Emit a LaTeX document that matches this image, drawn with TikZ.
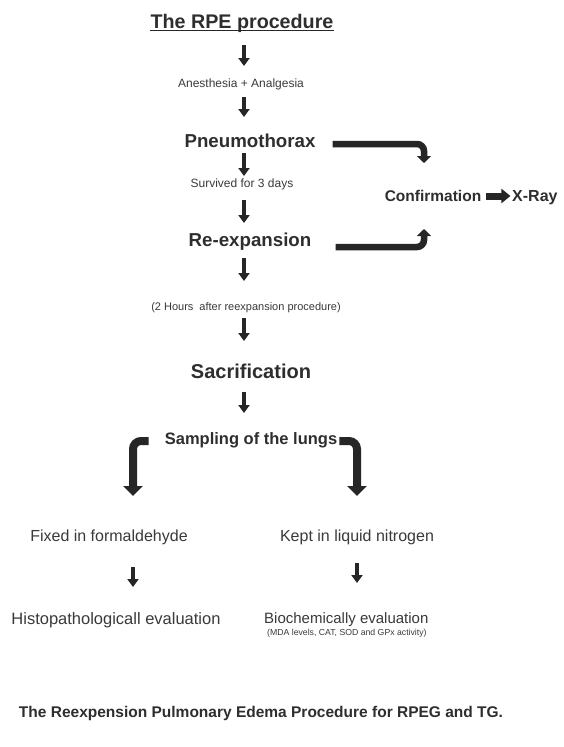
\documentclass[tikz,border=0pt]{standalone}
\usepackage{fontspec}
\setmainfont{Liberation Sans}
\usetikzlibrary{arrows.meta,calc}
\definecolor{ink}{HTML}{262626}
\definecolor{txt}{HTML}{2E2E2E}
\definecolor{txtl}{HTML}{3A3A3A}
\newcommand\fsz[1]{\fontsize{#1}{#1}\selectfont}
\begin{document}
\begin{tikzpicture}[x=1pt,y=-1pt,
  lbl/.style={inner sep=0pt, text=txt},
  head/.style={lbl, font=\bfseries\fsz{18.7}},
  small/.style={lbl, text=txtl, font=\fsz{12}},
  plain/.style={lbl, text=txtl, font=\fsz{16}},
  varr/.style={draw=ink, line width=4.5pt, -{Triangle[width=11pt,length=8pt]}},
  barr/.style={draw=ink, line width=6.5pt, rounded corners=7pt, -{Triangle[width=14pt,length=7pt]}},
  bigarr/.style={draw=ink, line width=8pt, rounded corners=8pt, -{Triangle[width=19pt,length=10pt]}},
  fatarr/.style={draw=ink, line width=7pt, -{Triangle[width=14pt,length=9pt]}},
]
\fill[white] (0,0) rectangle (563,747);
\useasboundingbox (0,0) rectangle (563,747);

\coordinate (mx) at (244,0);
\coordinate (lx) at (133,0);
\coordinate (rx) at (357,0);

% main column
\node[lbl, font=\bfseries\fsz{19.7}] (title) at (242,23) {The RPE procedure};
\draw[ink, line width=1.7pt] ($(title.base west)+(0,2.5)$) -- ($(title.base east)+(0,2.5)$);
\node[small] (anes) at (241,84) {Anesthesia + Analgesia};
\node[head] (pneu) at (250,141) {Pneumothorax};
\node[small] (surv) at (242,184) {Survived for 3 days};
\node[head] (reexp) at (250,242) {Re-expansion};
\node[lbl, text=txtl, font=\fsz{11}] (hours) at (246,308) {(2 Hours\hspace{3pt} after reexpansion procedure)};
\node[lbl, font=\bfseries\fsz{20}] (sacr) at (251,371) {Sacrification};
\node[lbl, font=\bfseries\fsz{16.5}] (samp) at (251,440) {Sampling of the lungs};

\draw[varr] ($(title.center -| mx)+(0,22)$) -- ($(anes.center -| mx)+(0,-18)$);
\draw[varr] ($(anes.center -| mx)+(0,13)$) -- ($(pneu.center -| mx)+(0,-24)$);
\draw[varr] ($(pneu.center -| mx)+(0,12)$) -- ($(surv.center -| mx)+(0,-8)$);
\draw[varr] ($(surv.center -| mx)+(0,16)$) -- ($(reexp.center -| mx)+(0,-19)$);
\draw[varr] ($(reexp.center -| mx)+(0,16)$) -- ($(hours.center -| mx)+(0,-27)$);
\draw[varr] ($(hours.center -| mx)+(0,10)$) -- ($(sacr.center -| mx)+(0,-30)$);
\draw[varr] ($(sacr.center -| mx)+(0,21)$) -- ($(samp.center -| mx)+(0,-27)$);

% confirmation
\node[lbl, font=\bfseries\fsz{15.5}] (conf) at (433,196) {Confirmation};
\node[lbl, font=\bfseries\fsz{16}, anchor=base west] (xray) at ($(conf.base)+(79,0)$) {X-Ray};
\draw[fatarr] ($(conf.east)+(5,0)$) -- ($(conf.east)+(29,0)$);
\coordinate (ct) at (424,163);
\coordinate (cb) at (424,229);
\draw[barr] ($(pneu.east)+(17,3)$) -| (ct);
\draw[barr] ($(reexp.east)+(24,5)$) -| (cb);

% split
\coordinate (lt) at (133,496);
\coordinate (rt) at (357,496);
\draw[bigarr] ($(samp.west)+(-16,1)$) -| (lt);
\draw[bigarr] ($(samp.east)+(2,1)$) -| (rt);

% lower
\node[plain] (fixed) at (109,537) {Fixed in formaldehyde};
\node[plain] (kept) at (357,537) {Kept in liquid nitrogen};
\node[plain, font=\fsz{16.5}] (histo) at (116,620) {Histopathologicall evaluation};
\node[plain, font=\fsz{15}, anchor=west] (bio) at (264,620) {Biochemically evaluation};
\node[lbl, text=txtl, font=\fsz{8.7}, anchor=north west] (mda) at (267,629) {(MDA levels, CAT, SOD and GPx activity)};
\draw[varr] ($(fixed.center -| lx)+(0,30)$) -- ($(histo.center -| lx)+(0,-33)$);
\draw[varr] ($(kept.center -| rx)+(0,26)$) -- ($(bio.center -| rx)+(0,-37)$);

% caption
\node[lbl, font=\bfseries\fsz{15.5}] (cap) at (261,713) {The Reexpension Pulmonary Edema Procedure for RPEG and TG.};
\end{tikzpicture}
\end{document}
